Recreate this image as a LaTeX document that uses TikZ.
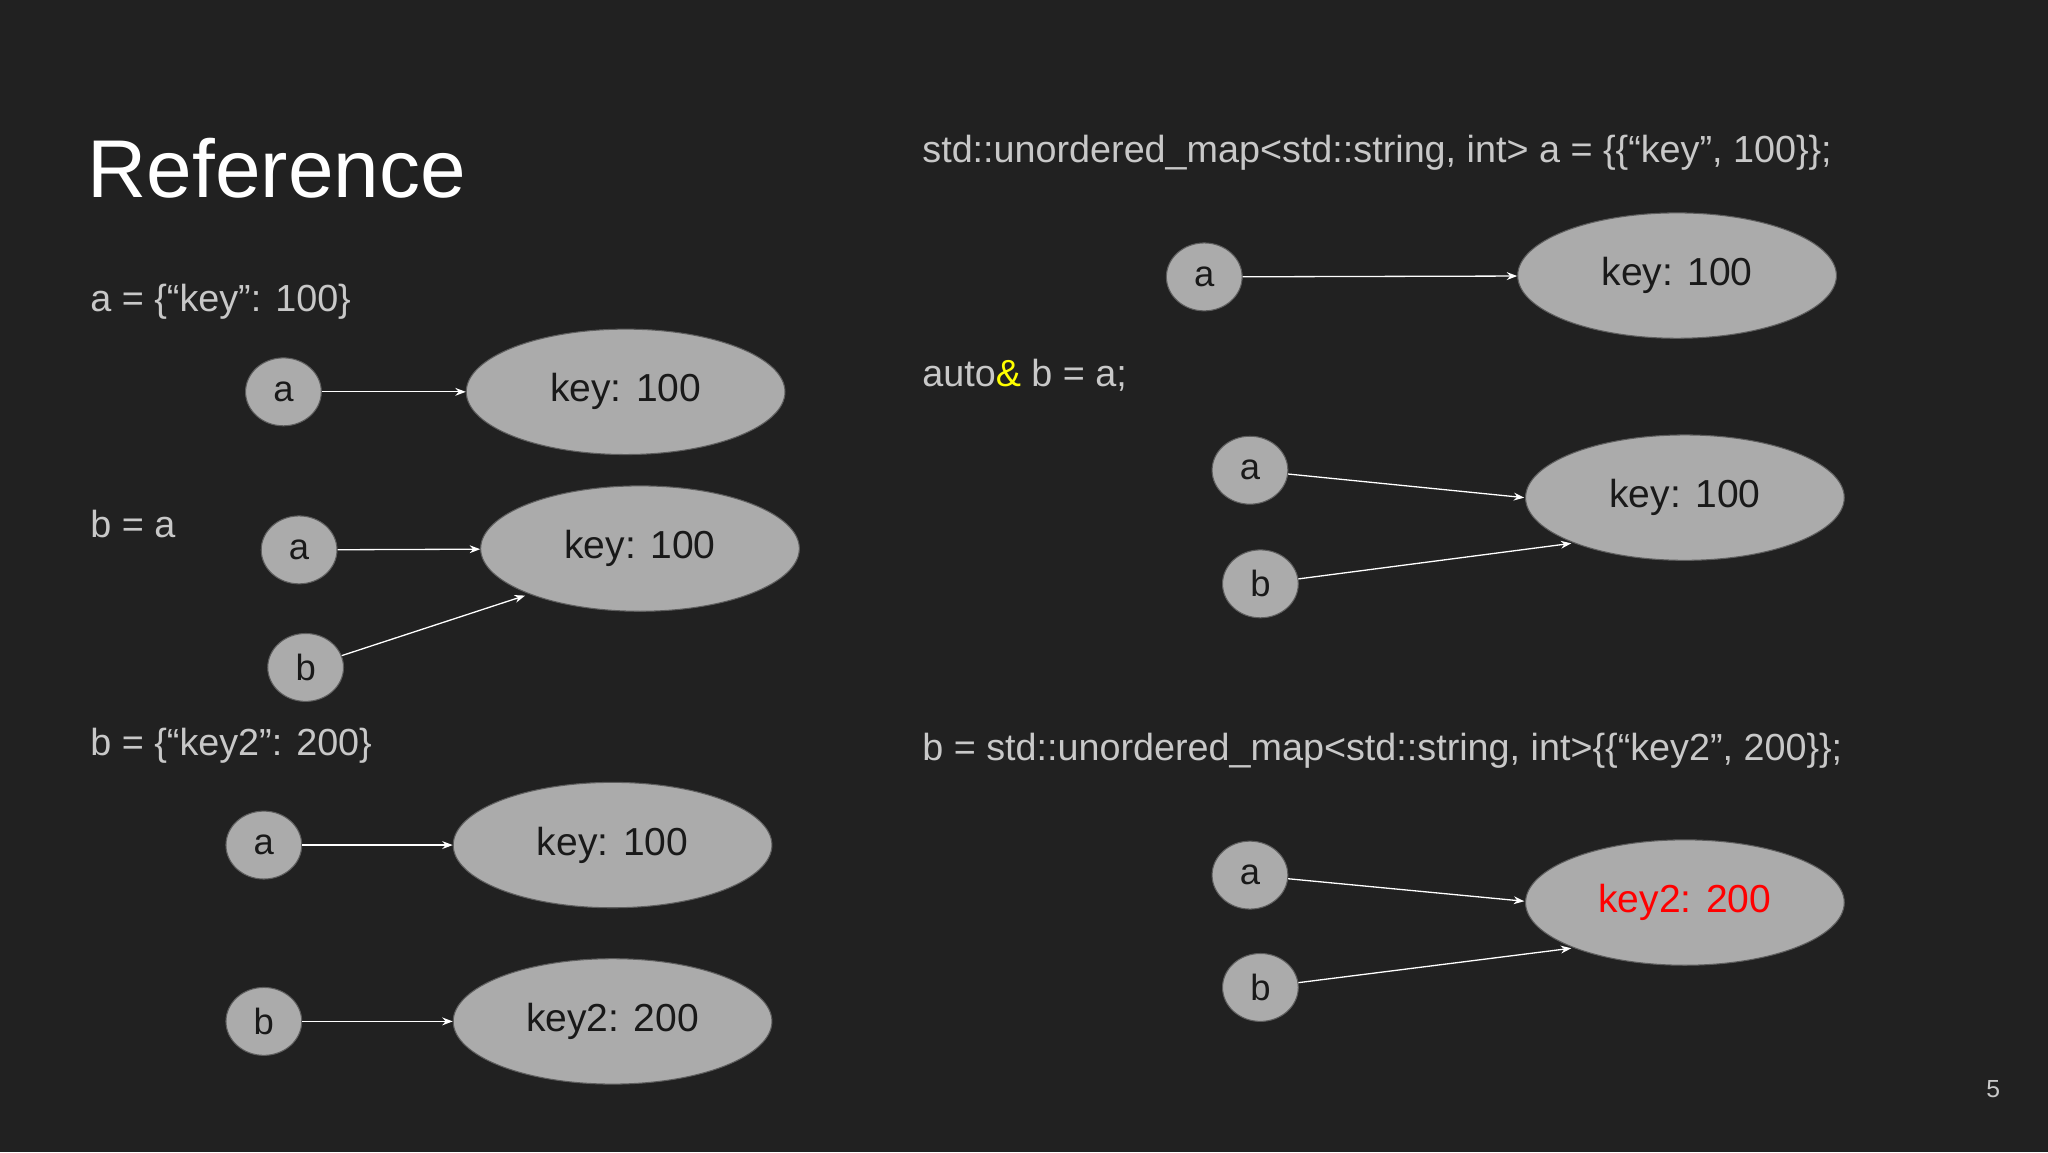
\documentclass[tikz,border=0pt]{standalone}
\usepackage{fontspec}
\setmainfont{Liberation Sans}
\usetikzlibrary{shapes.geometric,arrows.meta}
\definecolor{bg}{HTML}{212121}
\definecolor{nodefill}{HTML}{ABABAB}
\definecolor{nodeline}{HTML}{5E5E5E}
\definecolor{codetext}{HTML}{C8C8C8}
\definecolor{amp}{HTML}{FFFF00}
\tikzset{
 ptr/.style={ellipse,fill=nodefill,draw=nodeline,line width=0.8bp,minimum width=58bp,minimum height=52bp,inner sep=0pt,font=\fontsize{28}{30}\selectfont,text=black!90},
 obj/.style={ellipse,fill=nodefill,draw=nodeline,line width=0.8bp,minimum width=244bp,minimum height=96bp,inner sep=0pt,font=\fontsize{30}{32}\selectfont,text=black!90},
 code/.style={anchor=west,inner sep=0pt,text=codetext,font=\fontsize{29}{31}\selectfont},
 arr/.style={draw=white,line width=1bp,-{Stealth[length=8bp,width=6bp]}}
}
\begin{document}
\begin{tikzpicture}[x=1bp,y=-1bp]
\fill[bg] (0,0) rectangle (1568,882);
\useasboundingbox (0,0) rectangle (1568,882);
\node[anchor=west,inner sep=0pt,text=white,font=\fontsize{63}{65}\selectfont] (title) at (67,129) {Reference};
\node[code] (t1) at (69,231) {a = \{“key”: 100\}};
\node[code] (t2) at (69,401) {b = a};
\node[code] (t3) at (69,571) {b = \{“key2”: 200\}};
% left group 1
\node[ptr] (a1) at (217,300) {a};
\node[obj] (e1) at (479,300) {key: 100};
\draw[arr] (a1) -- (e1);
% left group 2
\node[ptr] (a2) at (229,421) {a};
\node[ptr] (b2) at (234,511) {b};
\node[obj] (e2) at (490,420) {key: 100};
\draw[arr] (a2) -- (e2);
\coordinate (e2b) at (402,456);
\draw[arr] (b2) -- (e2b);
% left group 3
\node[ptr] (a3) at (202,647) {a};
\node[obj] (e3) at (469,647) {key: 100};
\node[ptr] (b3) at (202,782) {b};
\node[obj] (e4) at (469,782) {key2: 200};
\draw[arr] (a3) -- (e3);
\draw[arr] (b3) -- (e4);
% right
\node[code] (r1) at (706,117) {std::unordered\_map<std::string, int> a = \{\{“key”, 100\}\};};
\node[ptr] (ra1) at (922,212) {a};
\node[obj] (re1) at (1284,211) {key: 100};
\draw[arr] (ra1) -- (re1);
\node[code] (r2) at (706,287) {auto{\color{amp}\&} b = a;};
\node[ptr] (ra2) at (957,360) {a};
\node[ptr] (rb2) at (965,447) {b};
\node[obj] (re2) at (1290,381) {key: 100};
\coordinate (re2a) at (1167,381);
\coordinate (re2b) at (1203,416);
\draw[arr] (ra2) -- (re2a);
\draw[arr] (rb2) -- (re2b);
\node[code] (r3) at (706,575) {b = std::unordered\_map<std::string, int>\{\{“key2”, 200\}\};};
\node[ptr] (ra3) at (957,670) {a};
\node[ptr] (rb3) at (965,756) {b};
\node[obj,text=red] (re3) at (1290,691) {key2: 200};
\coordinate (re3a) at (1167,690);
\coordinate (re3b) at (1203,726);
\draw[arr] (ra3) -- (re3a);
\draw[arr] (rb3) -- (re3b);
\node[inner sep=0pt,text=codetext,font=\fontsize{19}{21}\selectfont] (pg) at (1526,834) {5};
\end{tikzpicture}
\end{document}
